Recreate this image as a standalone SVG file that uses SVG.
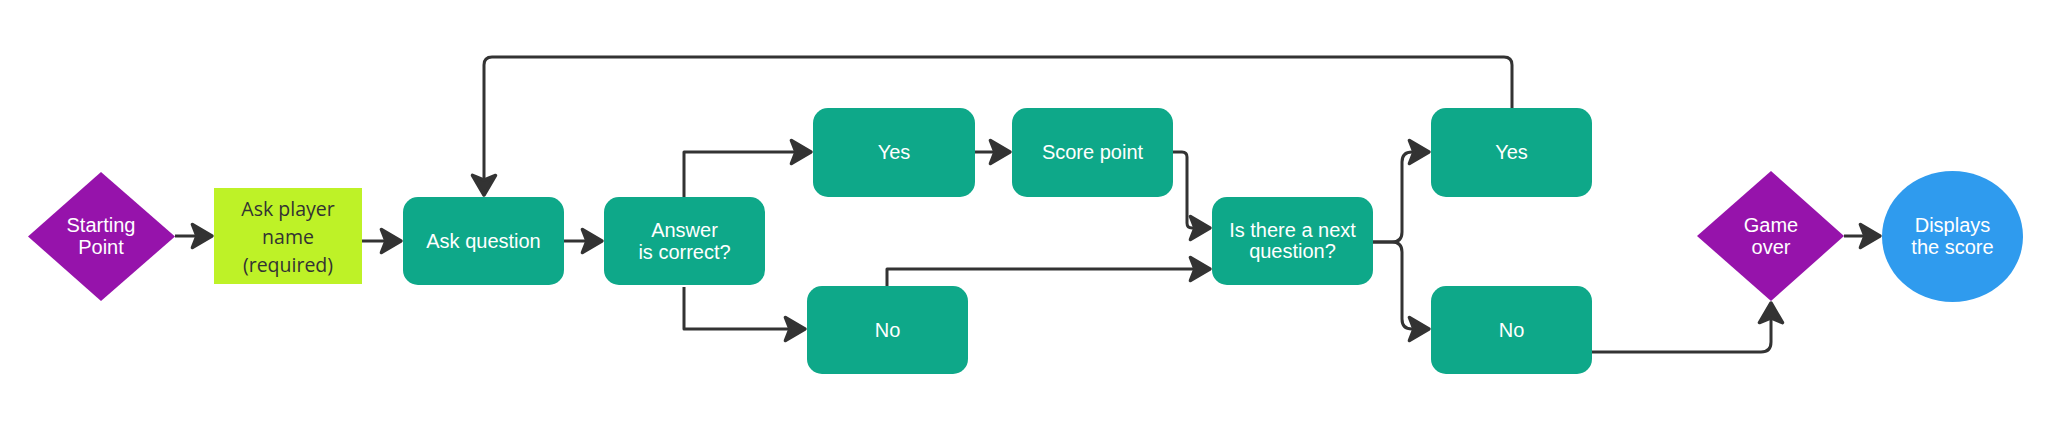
<svg xmlns="http://www.w3.org/2000/svg" width="2057" height="445" viewBox="0 0 2057 445">
<style>
.bg{fill:#ffffff}
.proc{fill:#0ea889}
.dec{fill:#9613ab}
.inp{fill:#bef227}
.term{fill:#2f9bee}
.t{font-family:"Liberation Sans",Arial,sans-serif;font-size:20px;fill:#ffffff;text-anchor:middle}
.tl{font-family:"Open Sans","Noto Sans",sans-serif;font-size:19.5px;fill:#333333;text-anchor:middle}
.c{fill:none;stroke:#333333;stroke-width:3;stroke-linejoin:round;marker-end:url(#ah)}
</style>
<defs>
<marker id="ah" markerUnits="userSpaceOnUse" orient="auto" refX="0" refY="0" markerWidth="30" markerHeight="30" viewBox="-22 -13 24 26" overflow="visible">
<path d="M0,0 L-17,-10 L-13,0 L-17,10 Z" fill="#333333" stroke="#333333" stroke-width="3" stroke-linejoin="round"/>
</marker>
</defs>
<rect class="bg" x="0" y="0" width="2057" height="445"/>
<g id="connectors">
<path class="c" d="M175,236 H212"/>
<path class="c" d="M362,241 H401"/>
<path class="c" d="M564,241 H602"/>
<path class="c" d="M684,197 V152 H811"/>
<path class="c" d="M684,287 V329 H805"/>
<path class="c" d="M975,152 H1010"/>
<path class="c" d="M1173,152 H1182 Q1187,152 1187,157 V223 Q1187,228 1192,228 H1210"/>
<path class="c" d="M887,286 V269 H1210"/>
<path class="c" d="M1373,242 H1392 Q1402,242 1402,232 V162 Q1402,152 1412,152 H1429"/>
<path class="c" d="M1373,242 H1392 Q1402,242 1402,252 V319 Q1402,329 1412,329 H1429"/>
<path class="c" d="M1512,108 V65 Q1512,57 1504,57 H492 Q484,57 484,65 V195"/>
<path class="c" d="M1592,352 H1761 Q1771,352 1771,342 V303"/>
<path class="c" d="M1844,236 H1880"/>
</g>
<g id="start">
<polygon class="dec" points="101,172 175,236.5 101,301 28,236.5"/>
<text class="t" x="101" y="232">Starting</text>
<text class="t" x="101" y="254">Point</text>
</g>
<g id="askname">
<rect class="inp" x="214" y="188" width="148" height="96"/>
<text class="tl" x="288" y="216">Ask player</text>
<text class="tl" x="288" y="244">name</text>
<text class="tl" x="288" y="272">(required)</text>
</g>
<g id="askquestion">
<rect class="proc" x="403" y="197" width="161" height="88" rx="15"/>
<text class="t" x="483.5" y="248">Ask question</text>
</g>
<g id="answer">
<rect class="proc" x="604" y="197" width="161" height="88" rx="15"/>
<text class="t" x="684.5" y="237">Answer</text>
<text class="t" x="684.5" y="259">is correct?</text>
</g>
<g id="yes1">
<rect class="proc" x="813" y="108" width="162" height="89" rx="15"/>
<text class="t" x="894" y="159">Yes</text>
</g>
<g id="no1">
<rect class="proc" x="807" y="286" width="161" height="88" rx="15"/>
<text class="t" x="887.5" y="337">No</text>
</g>
<g id="score">
<rect class="proc" x="1012" y="108" width="161" height="89" rx="15"/>
<text class="t" x="1092.5" y="159">Score point</text>
</g>
<g id="next">
<rect class="proc" x="1212" y="197" width="161" height="88" rx="15"/>
<text class="t" x="1292.5" y="237">Is there a next</text>
<text class="t" x="1292.5" y="258">question?</text>
</g>
<g id="yes2">
<rect class="proc" x="1431" y="108" width="161" height="89" rx="15"/>
<text class="t" x="1511.5" y="159">Yes</text>
</g>
<g id="no2">
<rect class="proc" x="1431" y="286" width="161" height="88" rx="15"/>
<text class="t" x="1511.5" y="337">No</text>
</g>
<g id="gameover">
<polygon class="dec" points="1771,171 1844,236 1771,301 1697,236"/>
<text class="t" x="1771" y="232">Game</text>
<text class="t" x="1771" y="254">over</text>
</g>
<g id="display">
<ellipse class="term" cx="1952.5" cy="236.5" rx="70.5" ry="65.5"/>
<text class="t" x="1952.5" y="232">Displays</text>
<text class="t" x="1952.5" y="254">the score</text>
</g>
</svg>
